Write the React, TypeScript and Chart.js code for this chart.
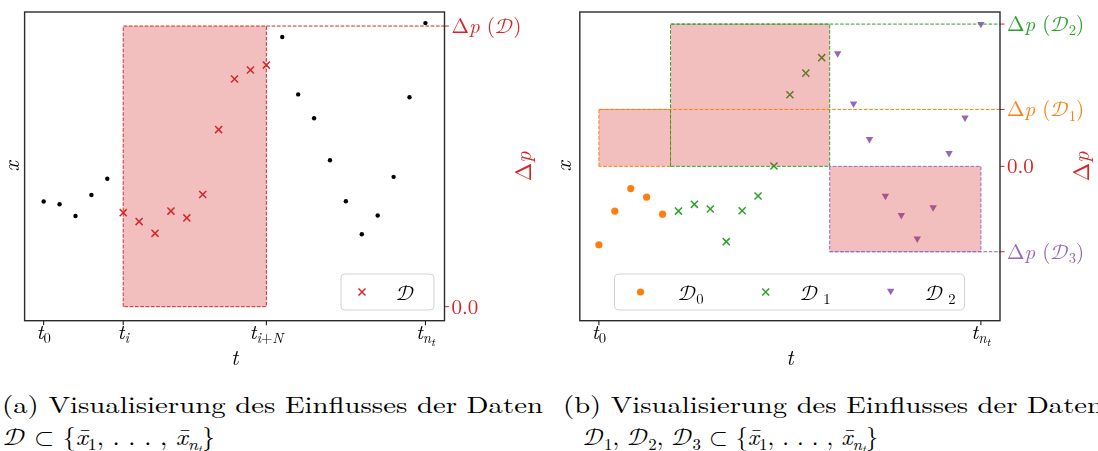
import React, { useEffect, useLayoutEffect, useRef } from 'react';
import { Chart, registerables } from 'chart.js';

Chart.register(...registerables);

const SERIF = "'Latin Modern Roman', 'Latin Modern Math', 'Liberation Serif', serif";
const CAL_D = '\u{1D49F}';

const RED = '#d62728';
const ORANGE = '#ff7f0e';
const GREEN = '#2ca02c';
const PURPLE = '#9467bd';
const BOX_FILL = 'rgba(214, 39, 40, 0.3)';
const DASH = [3.7, 1.6];

// time step indices t_0 ... t_{n_t}
const timeSteps = [0, 1, 2, 3, 4, 5, 6, 7, 8, 9, 10, 11, 12, 13, 14, 15, 16, 17, 18, 19, 20, 21, 22, 23, 24];

// (a) state trajectory and the influence of one data window
const stateA = [3.86, 3.77, 3.39, 4.07, 4.6, 3.5, 3.21, 2.83, 3.55, 3.33, 4.09, 6.19, 7.83, 8.12, 8.28, 9.19, 7.33, 6.56, 5.2, 3.87, 2.8, 3.41, 4.66, 7.24, 9.64];
const windowA = [5, 14]; // t_i ... t_{i+N}
const influenceA = 1.0; // Δp(𝒟)
const tickStepsA = [0, 5, 14, 24];

// (b) state trajectory split into three data groups
const stateB = [2.46, 3.55, 4.28, 4.0, 3.45, 3.55, 3.77, 3.62, 2.56, 3.56, 4.04, 5.01, 7.32, 8.02, 8.52, 8.66, 7.03, 5.88, 4.04, 3.42, 2.66, 3.67, 5.43, 6.58, 9.61];
const groupsB = [[0, 4], [5, 14], [15, 24]]; // 𝒟0, 𝒟1, 𝒟2
const spansB = [[0, 4.5], [4.5, 14.5], [14.5, 24]]; // spans of 𝒟1, 𝒟2, 𝒟3
const influenceB = [0.4, 1.0, -0.6]; // Δp(𝒟1), Δp(𝒟2), Δp(𝒟3)
const tickStepsB = [0, 24];

const T_RANGE = [-1.2, 25.2];

type Piece = { s: string; it?: boolean; lvl?: number };
const LVL_SCALE = [1, 0.7, 0.55];
const LVL_SHIFT = [0, 0.2, 0.34];

function drawMath(ctx: CanvasRenderingContext2D, pieces: Piece[], x: number, y: number, size: number, align: 'left' | 'center', color: string) {
  const fonts = pieces.map((p) => `${p.it ? 'italic ' : ''}${(size * LVL_SCALE[p.lvl || 0]).toFixed(1)}px ${SERIF}`);
  let total = 0;
  const widths = pieces.map((p, i) => {
    ctx.font = fonts[i];
    const w = ctx.measureText(p.s).width;
    total += w;
    return w;
  });
  let cx = align === 'center' ? x - total / 2 : x;
  ctx.fillStyle = color;
  ctx.textAlign = 'left';
  ctx.textBaseline = 'alphabetic';
  pieces.forEach((p, i) => {
    ctx.font = fonts[i];
    ctx.fillText(p.s, cx, y + size * LVL_SHIFT[p.lvl || 0]);
    cx += widths[i];
  });
}

function drawMarker(ctx: CanvasRenderingContext2D, kind: string, x: number, y: number, color: string) {
  ctx.save();
  ctx.fillStyle = color;
  ctx.strokeStyle = color;
  if (kind === 'circle') {
    ctx.beginPath();
    ctx.arc(x, y, 3.6, 0, Math.PI * 2);
    ctx.fill();
  } else if (kind === 'x') {
    ctx.lineWidth = 1.5;
    ctx.beginPath();
    ctx.moveTo(x - 3.5, y - 3.5);
    ctx.lineTo(x + 3.5, y + 3.5);
    ctx.moveTo(x + 3.5, y - 3.5);
    ctx.lineTo(x - 3.5, y + 3.5);
    ctx.stroke();
  } else if (kind === 'tri') {
    ctx.beginPath();
    ctx.moveTo(x - 3.7, y - 3.2);
    ctx.lineTo(x + 3.7, y - 3.2);
    ctx.lineTo(x, y + 3.2);
    ctx.closePath();
    ctx.fill();
  }
  ctx.restore();
}

const tLabel = (sub: Piece[]): Piece[] => [{ s: 't', it: true }, ...sub];
const dpLabel = (sub?: string): Piece[] => [
  { s: 'Δ' },
  { s: 'p', it: true },
  { s: ' (' },
  { s: CAL_D },
  ...(sub ? [{ s: sub, lvl: 1 }] : []),
  { s: ')' },
];

const pts = (state: number[], from: number, to: number) =>
  timeSteps.filter((t) => t >= from && t <= to).map((t) => ({ x: t, y: state[t] }));

const scatter = (data: any[], style: any) => ({ data, yAxisID: 'y', showLine: false, ...style });
const outline = (x0: number, x1: number, dp: number, color: string) => ({
  data: [{ x: x0, y: 0 }, { x: x0, y: dp }, { x: x1, y: dp }, { x: x1, y: 0 }, { x: x0, y: 0 }],
  yAxisID: 'dp', borderColor: color, borderWidth: 1, borderDash: DASH, pointRadius: 0, fill: false,
});
const guide = (x0: number, dp: number, color: string) => ({
  data: [{ x: x0, y: dp }, { x: T_RANGE[1], y: dp }],
  yAxisID: 'dp', borderColor: color, borderWidth: 1, borderDash: DASH, pointRadius: 0, fill: false,
});
const shade = (x0: number, x1: number, dp: number) => ({
  data: [{ x: x0, y: dp }, { x: x1, y: dp }],
  yAxisID: 'dp', borderColor: 'rgba(0,0,0,0)', borderWidth: 0, pointRadius: 0,
  fill: { value: 0 }, backgroundColor: BOX_FILL,
});

const xStyle = (c: string) => ({ pointStyle: 'crossRot', pointRadius: 5, pointBorderWidth: 1.5, pointBorderColor: c, pointBackgroundColor: c, borderColor: c });

const specA = {
  width: 550, height: 380,
  pad: { left: 24.6, right: 105.5, top: 12, bottom: 59.3 },
  yRange: [0, 10], dpRange: [-0.05, 1.05],
  datasets: [
    outline(windowA[0], windowA[1], influenceA, RED),
    guide(windowA[1], influenceA, RED),
    shade(windowA[0], windowA[1], influenceA),
    scatter(pts(stateA, windowA[0], windowA[1]), xStyle(RED)),
    scatter([...pts(stateA, 0, windowA[0] - 1), ...pts(stateA, windowA[1] + 1, 24)], {
      pointStyle: 'circle', pointRadius: 2.2, pointBorderWidth: 0, pointBackgroundColor: '#000', borderColor: '#000',
    }),
  ],
  xTicks: [
    { v: tickStepsA[0], label: tLabel([{ s: '0', lvl: 1 }]) },
    { v: tickStepsA[1], label: tLabel([{ s: 'i', it: true, lvl: 1 }]) },
    { v: tickStepsA[2], label: tLabel([{ s: 'i', it: true, lvl: 1 }, { s: '+', lvl: 1 }, { s: 'N', it: true, lvl: 1 }]) },
    { v: tickStepsA[3], label: tLabel([{ s: 'n', it: true, lvl: 1 }, { s: 't', it: true, lvl: 2 }]) },
  ],
  dpTicks: [
    { v: influenceA, label: dpLabel(), color: RED },
    { v: 0, label: [{ s: '0.0' }], color: RED },
  ],
  yTitleX: 14,
  dpTitleX: 526.5,
  legend: {
    x: 341, y: 274, w: 93, h: 36, cy: 292, baseline: 300,
    items: [{ kind: 'x', color: RED, mx: 362, lx: 396, label: [{ s: CAL_D }] }],
  },
};

const specB = {
  width: 548, height: 380,
  pad: { left: 29.8, right: 98, top: 12, bottom: 59.3 },
  yRange: [0, 10], dpRange: [-1.085, 1.085],
  datasets: [
    outline(spansB[1][0], spansB[1][1], influenceB[1], GREEN),
    guide(spansB[1][0], influenceB[1], GREEN),
    outline(spansB[0][0], spansB[0][1], influenceB[0], ORANGE),
    guide(spansB[0][0], influenceB[0], ORANGE),
    outline(spansB[2][0], spansB[2][1], influenceB[2], PURPLE),
    guide(spansB[2][0], influenceB[2], PURPLE),
    shade(spansB[0][0], spansB[0][1], influenceB[0]),
    shade(spansB[1][0], spansB[1][1], influenceB[1]),
    shade(spansB[2][0], spansB[2][1], influenceB[2]),
    scatter(pts(stateB, groupsB[0][0], groupsB[0][1]), {
      pointStyle: 'circle', pointRadius: 3.6, pointBorderWidth: 0, pointBackgroundColor: ORANGE, borderColor: ORANGE,
    }),
    scatter(pts(stateB, groupsB[1][0], groupsB[1][1]), xStyle(GREEN)),
    scatter(pts(stateB, groupsB[2][0], groupsB[2][1]), {
      pointStyle: 'triangle', pointRotation: 180, pointRadius: 4.3, pointBorderWidth: 0, pointBackgroundColor: PURPLE, borderColor: PURPLE,
    }),
  ],
  xTicks: [
    { v: tickStepsB[0], label: tLabel([{ s: '0', lvl: 1 }]) },
    { v: tickStepsB[1], label: tLabel([{ s: 'n', it: true, lvl: 1 }, { s: 't', it: true, lvl: 2 }]) },
  ],
  dpTicks: [
    { v: influenceB[1], label: dpLabel('2'), color: GREEN },
    { v: influenceB[0], label: dpLabel('1'), color: ORANGE },
    { v: 0, label: [{ s: '0.0' }], color: RED },
    { v: influenceB[2], label: dpLabel('3'), color: PURPLE },
  ],
  yTitleX: 16,
  dpTitleX: 535,
  legend: {
    x: 64.5, y: 274, w: 350, h: 36, cy: 292, baseline: 300,
    items: [
      { kind: 'circle', color: ORANGE, mx: 90.5, lx: 128, label: [{ s: CAL_D }, { s: '0', lvl: 1 }] },
      { kind: 'x', color: GREEN, mx: 215.7, lx: 250, label: [{ s: CAL_D }, { s: ' 1', lvl: 1 }] },
      { kind: 'tri', color: PURPLE, mx: 340.7, lx: 375, label: [{ s: CAL_D }, { s: ' 2', lvl: 1 }] },
    ],
  },
};

type Spec = typeof specA;

function decorations(spec: Spec) {
  return {
    id: 'decorations',
    afterDraw(chart: any) {
      const ctx: CanvasRenderingContext2D = chart.ctx;
      const a = chart.chartArea;
      const xs = chart.scales.x;
      const ds = chart.scales.dp;
      ctx.save();

      // bottom time ticks
      ctx.lineWidth = 1;
      for (const t of spec.xTicks) {
        const px = xs.getPixelForValue(t.v);
        ctx.strokeStyle = '#000';
        ctx.beginPath();
        ctx.moveTo(px, a.bottom);
        ctx.lineTo(px, a.bottom + 4.5);
        ctx.stroke();
        drawMath(ctx, t.label, px, 339, 21, 'center', '#000');
      }

      // right influence ticks
      for (const t of spec.dpTicks) {
        const py = ds.getPixelForValue(t.v);
        ctx.strokeStyle = RED;
        ctx.lineWidth = 1;
        ctx.beginPath();
        ctx.moveTo(a.right, py);
        ctx.lineTo(a.right + 4.5, py);
        ctx.stroke();
        drawMath(ctx, t.label, a.right + 7, py + 7, 21, 'left', t.color);
      }

      // frame
      ctx.strokeStyle = '#2b2b2b';
      ctx.lineWidth = 1.4;
      ctx.strokeRect(a.left, a.top, a.right - a.left, a.bottom - a.top);

      // axis titles
      drawMath(ctx, [{ s: 't', it: true }], (a.left + a.right) / 2, 365, 22, 'center', '#000');
      const cy = (a.top + a.bottom) / 2;
      ctx.save();
      ctx.translate(spec.yTitleX + 4.5, cy);
      ctx.rotate(-Math.PI / 2);
      drawMath(ctx, [{ s: 'x', it: true }], 0, 0, 22, 'center', '#000');
      ctx.restore();
      ctx.save();
      ctx.translate(spec.dpTitleX + 4, cy);
      ctx.rotate(-Math.PI / 2);
      drawMath(ctx, [{ s: 'Δ' }, { s: 'p', it: true }], 0, 0, 22, 'center', RED);
      ctx.restore();

      // legend
      const lg = spec.legend;
      ctx.beginPath();
      ctx.roundRect(lg.x, lg.y, lg.w, lg.h, 4);
      ctx.fillStyle = 'rgba(255,255,255,0.8)';
      ctx.fill();
      ctx.strokeStyle = '#d3d3d3';
      ctx.lineWidth = 1;
      ctx.stroke();
      for (const it of lg.items) {
        drawMarker(ctx, it.kind, it.mx, lg.cy, it.color);
        drawMath(ctx, it.label as Piece[], it.lx, lg.baseline, 21, 'left', '#000');
      }
      ctx.restore();
    },
  };
}

function Panel({ spec, left }: { spec: Spec; left: number }) {
  const ref = useRef<HTMLCanvasElement>(null);
  useEffect(() => {
    const chart = new Chart(ref.current!, {
      type: 'line',
      data: { datasets: spec.datasets as any },
      options: {
        responsive: false,
        animation: false,
        events: [],
        layout: { padding: spec.pad },
        plugins: { legend: { display: false }, tooltip: { enabled: false } },
        scales: {
          x: { type: 'linear', display: false, min: T_RANGE[0], max: T_RANGE[1] },
          y: { type: 'linear', display: false, min: spec.yRange[0], max: spec.yRange[1] },
          dp: { type: 'linear', display: false, position: 'right', min: spec.dpRange[0], max: spec.dpRange[1] },
        },
      } as any,
      plugins: [decorations(spec)],
    });
    return () => chart.destroy();
  }, [spec]);
  return (
    <canvas
      ref={ref}
      width={spec.width}
      height={spec.height}
      style={{ position: 'absolute', left, top: 0, width: spec.width, height: spec.height }}
    />
  );
}

const CAPTION_SIZE = 23.4;

// Caption line, horizontally fitted to its column width
function CaptionLine({ x, baseline, width, children }: { x: number; baseline: number; width: number; children: React.ReactNode }) {
  const ref = useRef<HTMLDivElement>(null);
  useLayoutEffect(() => {
    const el = ref.current!;
    el.style.transform = 'none';
    const w = el.getBoundingClientRect().width;
    el.style.transform = `scaleX(${width / w})`;
  }, [width]);
  return (
    <div
      ref={ref}
      style={{
        position: 'absolute', left: x, top: baseline - 21, width: 'max-content',
        fontFamily: SERIF, fontSize: CAPTION_SIZE, lineHeight: '28px', whiteSpace: 'nowrap',
        transformOrigin: '0 0', color: '#000',
      }}
    >
      {children}
    </div>
  );
}

const Sub = ({ children }: { children: React.ReactNode }) => (
  <span style={{ fontSize: '0.7em', verticalAlign: '-0.28em', lineHeight: 0 }}>{children}</span>
);
const XBar = () => <i>x&#x0304;</i>;
const Set = () => (
  <>
    {'{'}<XBar /><Sub>1</Sub>, . . . , <XBar /><Sub><i>n</i><Sub><i>t</i></Sub></Sub>{'}'}
  </>
);

export default function App() {
  return (
    <div style={{ position: 'absolute', left: 0, top: 0, width: 1098, height: 451, overflow: 'hidden', background: '#fff' }}>
      <Panel spec={specA} left={0} />
      <Panel spec={specB} left={550} />
      <CaptionLine x={2} baseline={411} width={541}>(a) Visualisierung des Einflusses der Daten</CaptionLine>
      <CaptionLine x={3} baseline={443} width={212}>
        {CAL_D} ⊂ <Set />
      </CaptionLine>
      <CaptionLine x={563} baseline={411} width={540}>(b) Visualisierung des Einflusses der Daten</CaptionLine>
      <CaptionLine x={583} baseline={443} width={295}>
        {CAL_D}<Sub>1</Sub>, {CAL_D}<Sub>2</Sub>, {CAL_D}<Sub>3</Sub> ⊂ <Set />
      </CaptionLine>
    </div>
  );
}
